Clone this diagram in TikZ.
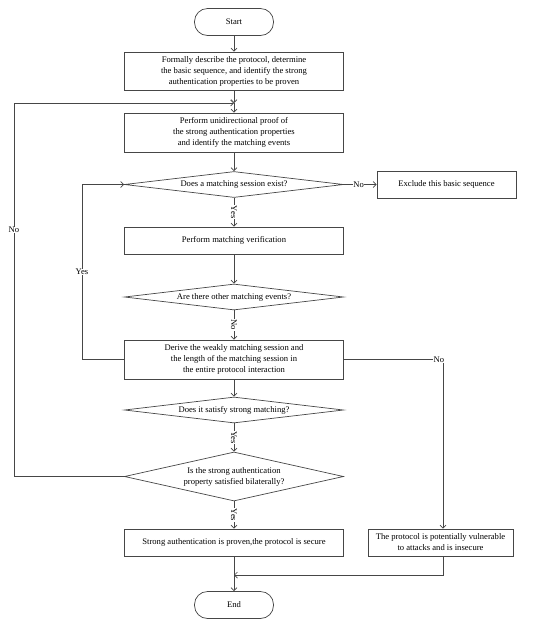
\documentclass[tikz,border=0pt]{standalone}
\usepackage{fontspec}
\setmainfont{Liberation Serif}
\usetikzlibrary{shapes.geometric,arrows.meta,calc}
\begin{document}
\begin{tikzpicture}[x=1pt,y=-1pt,
  every node/.style={font=\fontsize{8.6}{11}\selectfont, text=black},
  proc/.style={draw=linec, line width=0.7pt, minimum width=219pt, align=center, inner sep=1pt},
  term/.style={draw=linec, line width=0.7pt, rounded corners=13pt, minimum width=79pt, minimum height=27pt},
  dec/.style={draw=linec, line width=0.7pt, diamond, aspect=8, minimum width=219pt, align=center, inner sep=0pt},
  conn/.style={draw=linec, line width=0.7pt, -{Straight Barb[length=3pt,width=6pt]}},
  lab/.style={fill=white, inner sep=0.5pt},
  vlab/.style={fill=white, inner sep=0.5pt, rotate=-90}]
\definecolor{linec}{RGB}{70,70,70}
\useasboundingbox (0,0) rectangle (550,625);

\node[term] (start) at (234,22) {Start};
\node[proc, minimum height=38pt] (b1) at (234,71) {Formally describe the protocol, determine\\the basic sequence, and identify the strong\\authentication properties to be proven};
\coordinate (j1) at (234,103);
\node[proc, minimum height=39pt] (b2) at (234,132.5) {Perform unidirectional proof of\\the strong authentication properties\\and identify the matching events};
\node[dec, minimum height=26pt] (d1) at (234,184.5) {Does a matching session exist?};
\node[proc, minimum width=139pt, minimum height=27pt] (ex) at (446.5,184.5) {Exclude this basic sequence};
\node[proc, minimum height=27pt] (b3) at (234,240.5) {Perform matching verification};
\node[dec, minimum height=26pt] (d2) at (234,297) {Are there other matching events?};
\node[proc, minimum height=39pt] (b4) at (234,359.5) {Derive the weakly matching session and\\the length of the matching session in\\the entire protocol interaction};
\node[dec, minimum height=26pt] (d3) at (234,410) {Does it satisfy strong matching?};
\node[dec, aspect=4.4, minimum height=49pt] (d4) at (234,476.5) {Is the strong authentication\\property satisfied bilaterally?};
\node[proc, minimum height=27pt] (b5) at (234,542.5) {Strong authentication is proven,the protocol is secure};
\node[proc, minimum width=145pt, minimum height=27pt] (b6) at (440.5,542.5) {The protocol is potentially vulnerable\\to attacks and is insecure};
\node[term] (end) at (234,605) {End};
\coordinate (j2) at (234,575);

\coordinate (l1) at (14,476.5);
\coordinate (l2) at (14,103);
\coordinate (y1) at (82,359.5);
\coordinate (y2) at (82,184.5);
\coordinate (r1) at (443,359.5);
\coordinate (r2) at (443,575);

\path[conn] (start) -- (b1);
\path[conn] (b1) -- (j1);
\path[conn] (j1) -- (b2);
\path[conn] (b2) -- (d1);
\path[conn] (d1.east) -- node[lab, pos=0.45]{No} (ex.west);
\path[conn] (d1.south) -- node[vlab]{Yes} (b3.north);
\path[conn] (b3) -- (d2);
\path[conn] (d2.south) -- node[vlab]{No} (b4.north);
\path[conn] (b4.west) -- (y1) -- node[lab]{Yes} (y2) -- (d1.west);
\path[conn] (b4) -- (d3);
\path[conn] (b4.east) -- (r1) node[lab, xshift=-4pt]{No} -- (b6.north -| r1);
\path[conn] (d3.south) -- node[vlab]{Yes} (d4.north);
\path[conn] (d4.west) -- (l1) -- node[lab, pos=0.66]{No} (l2) -- (j1);
\path[conn] (d4.south) -- node[vlab]{Yes} (b5.north);
\path[conn] (b5) -- (end);
\path[conn] (b6.south -| r2) -- (r2) -- (j2);
\end{tikzpicture}
\end{document}
